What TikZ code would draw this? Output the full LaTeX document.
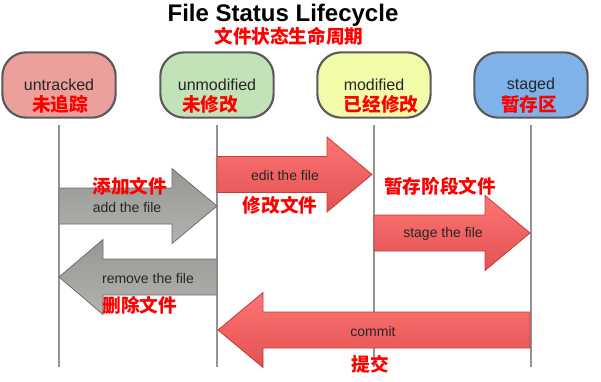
\documentclass[tikz,border=0pt]{standalone}
\usepackage{fontspec}
\setmainfont{Liberation Sans}
\newfontfamily\cjk{Noto Sans CJK SC}
\usetikzlibrary{positioning}

\definecolor{untrackedfill}{HTML}{ECA09C}
\definecolor{unmodifiedfill}{HTML}{C2E2B8}
\definecolor{modifiedfill}{HTML}{F2FBA8}
\definecolor{stagedfill}{HTML}{80B2EA}
\definecolor{pillborder}{HTML}{5A5A5A}
\definecolor{redtop}{HTML}{FF7474}
\definecolor{redbottom}{HTML}{E25252}
\definecolor{rededge}{HTML}{C43C3C}
\definecolor{graytop}{HTML}{979793}
\definecolor{graybottom}{HTML}{B2B2B0}
\definecolor{grayedge}{HTML}{6E6E6E}

\begin{document}
\begin{tikzpicture}[
    x=0.75pt, y=-0.75pt,
    state/.style={rectangle, rounded corners=18pt, draw=pillborder, line width=1.6pt, minimum width=85pt, minimum height=49pt, font=\fontsize{12}{14}\selectfont, text=black!85},
    cnlabel/.style={text=red, font=\cjk\bfseries\fontsize{14}{16}\selectfont},
    lifeline/.style={draw=gray!85, line width=1.3pt},
    redarrow/.style={draw=rededge, line width=0.6pt, top color=redtop, bottom color=redbottom},
    grayarrow/.style={draw=grayedge, line width=0.6pt, top color=graytop, bottom color=graybottom},
    arrowlabel/.style={font=\fontsize{10.5}{12}\selectfont, text=black!85}
]
\useasboundingbox (0,0) rectangle (601,382);

\node[font=\bfseries\fontsize{18}{20}\selectfont] (title) at (283,15) {File Status Lifecycle};
\node[cnlabel] (title-cn) at (289,36) {文件状态生命周期};

\node[state, fill=untrackedfill] (untracked) at (59,85) {untracked};
\node[state, fill=unmodifiedfill] (unmodified) at (217,85) {unmodified};
\node[state, fill=modifiedfill] (modified) at (374,85) {modified};
\node[state, fill=stagedfill] (staged) at (531,85) {staged};

\node[cnlabel] (untracked-cn) at (60,104) {未追踪};
\node[cnlabel] (unmodified-cn) at (210,104) {未修改};
\node[cnlabel] (modified-cn) at (381,104) {已经修改};
\node[cnlabel] (staged-cn) at (529,104) {暂存区};

\foreach \s in {untracked, unmodified, modified, staged} {
    \coordinate (\s-top) at (\s |- 0,125);
    \coordinate (\s-end) at (\s |- 0,367);
    \draw[lifeline] (\s-top) -- (\s-end);
}

% transitions
\draw[grayarrow] (59,188) -- (172,188) -- (172,168.5) -- (217,206) -- (172,243.5) -- (172,224) -- (59,224) -- cycle;
\draw[redarrow] (217,156.5) -- (327,156.5) -- (327,137) -- (372,174.5) -- (327,212) -- (327,192.5) -- (217,192.5) -- cycle;
\draw[redarrow] (374,215) -- (485,215) -- (485,195.5) -- (530,233) -- (485,270.5) -- (485,251) -- (374,251) -- cycle;
\draw[grayarrow] (217,259) -- (103,259) -- (103,239.5) -- (59,277) -- (103,314.5) -- (103,295) -- (217,295) -- cycle;
\draw[redarrow] (530,312) -- (263,312) -- (263,292.5) -- (218,330) -- (263,367.5) -- (263,348) -- (530,348) -- cycle;

\node[arrowlabel] (add) at (127,207) {add the file};
\node[arrowlabel] (edit) at (285,175) {edit the file};
\node[arrowlabel] (stage) at (443,234) {stage the file};
\node[arrowlabel] (remove) at (148,278) {remove the file};
\node[arrowlabel] (commit) at (373,331) {commit};

\node[cnlabel] (add-cn) at (130,186) {添加文件};
\node[cnlabel] (edit-cn) at (280,205) {修改文件};
\node[cnlabel] (stage-cn) at (440,186) {暂存阶段文件};
\node[cnlabel] (remove-cn) at (140,305) {删除文件};
\node[cnlabel] (commit-cn) at (370,364) {提交};

\end{tikzpicture}
\end{document}
